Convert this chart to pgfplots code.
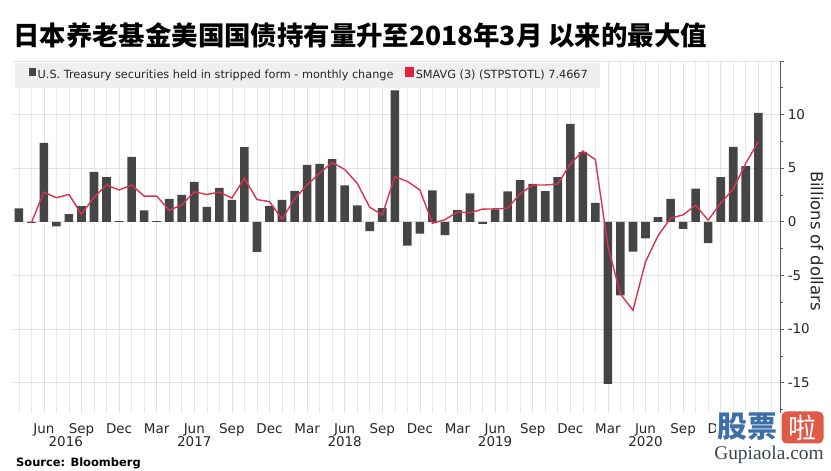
\documentclass[border=0pt]{standalone}
\usepackage{pgfplots}
\pgfplotsset{compat=1.18}
\usepackage{fontspec}
\setmainfont{DejaVu Sans}
\newfontfamily\cjk{Noto Sans CJK SC}
\newfontfamily\wmserif{Liberation Serif}
\definecolor{barcol}{HTML}{454545}
\definecolor{redline}{HTML}{D9344F}
\definecolor{legred}{HTML}{E8203A}
\definecolor{legbg}{HTML}{EFEFEF}
\definecolor{gridc}{HTML}{E2E2E2}
\definecolor{wmblue}{HTML}{3E6FA8}
\definecolor{wmred}{HTML}{E05A4A}
\definecolor{wmgray}{HTML}{3C4652}
\begin{document}
\begin{tikzpicture}[x=1bp,y=1bp]
\path[use as bounding box, fill=white] (0,0) rectangle (831,471);
\begin{axis}[
  at={(10,54)}, anchor=south west,
  width=767.7bp, height=352.2bp, scale only axis,
  xmin=-0.5, xmax=60.75, ymin=-17.83, ymax=15,
  axis x line*=bottom, axis y line*=right,
  x axis line style={draw=none},
  y axis line style={draw=black!65, line width=0.6bp},
  xtick={2,5,...,59},
  xticklabels={Jun,Sep,Dec,Mar,Jun,Sep,Dec,Mar,Jun,Sep,Dec,Mar,Jun,Sep,Dec,Mar,Jun,Sep,Dec,Mar},
  minor xtick={0,...,60},
  xtick style={draw=none}, minor x tick style={draw=none},
  xmajorgrids, xminorgrids, ymajorgrids,
  major grid style={gridc, line width=0.6bp},
  minor grid style={gridc!75, line width=0.6bp},
  ytick={-15,-10,-5,0,5,10,15}, yticklabels={-15,-10,-5,0,5,10,},
  minor ytick={-17.5,-12.5,-7.5,-2.5,2.5,7.5,12.5},
  ytick style={draw=black!65, line width=0.6bp},
  tick align=outside, major tick length=4bp, minor tick length=2.5bp,
  ticklabel style={font=\fontsize{13.5}{15}\selectfont, text=black!85},
  xticklabel style={yshift=-3bp},
  /pgf/number format/assume math mode=true,
  legend columns=2,
  legend style={at={(rel axis cs:0.0208,0.9615)}, anchor=west, draw=none, fill=none,
    inner sep=0pt, font=\fontsize{11.3}{13}\selectfont, text=black!85,
    /tikz/every even column/.append style={column sep=10.5bp},
    nodes={inner sep=1.5bp}},
  clip=false,
]
\addplot[ybar, bar width=8.6bp, fill=barcol, draw=none,
  legend image code/.code={\fill[barcol] (0bp,-1bp) rectangle (7.5bp,7bp);}]
coordinates {
(0,1.24) (1,-0.1) (2,7.36) (3,-0.43) (4,0.71) (5,1.46) (6,4.66) (7,4.16) (8,0.05) (9,6.06)
(10,1.06) (11,0.05) (12,2.14) (13,2.5) (14,3.73) (15,1.4) (16,3.17) (17,2.05) (18,6.96) (19,-2.8)
(20,1.49) (21,2.05) (22,2.89) (23,5.31) (24,5.4) (25,5.84) (26,3.39) (27,1.52) (28,-0.87) (29,1.27)
(30,12.24) (31,-2.23) (32,-1.1) (33,2.92) (34,-1.24) (35,1.09) (36,2.64) (37,-0.2) (38,1.15) (39,2.83)
(40,3.88) (41,3.54) (42,2.86) (43,4.16) (44,9.13) (45,6.49) (46,1.77) (47,-15.1) (48,-6.86) (49,-2.79)
(50,-1.55) (51,0.43) (52,2.14) (53,-0.65) (54,3.1) (55,-2.0) (56,4.16) (57,6.99) (58,5.19) (59,10.16)
};
\addlegendentry{U.S. Treasury securities held in stripped form - monthly change}
\addplot[color=redline, line width=1.4bp, no marks,
  legend image code/.code={\fill[legred] (0bp,-1bp) rectangle (7.5bp,7bp);}]
coordinates {
(1,-0.1) (2,2.76) (3,2.24) (4,2.55) (5,0.7) (6,2.28) (7,3.43) (8,2.96) (9,3.42)
(10,2.39) (11,2.39) (12,1.08) (13,1.56) (14,2.79) (15,2.54) (16,2.77) (17,2.21) (18,4.06) (19,2.07)
(20,1.88) (21,0.25) (22,2.14) (23,3.42) (24,4.53) (25,5.52) (26,4.88) (27,3.58) (28,1.35) (29,0.64)
(30,4.21) (31,3.76) (32,2.97) (33,-0.14) (34,0.19) (35,0.92) (36,0.83) (37,1.18) (38,1.2) (39,1.26)
(40,2.62) (41,3.42) (42,3.43) (43,3.52) (44,5.38) (45,6.59) (46,5.80) (47,-2.28) (48,-6.73) (49,-8.25)
(50,-3.73) (51,-1.30) (52,0.34) (53,0.64) (54,1.53) (55,0.15) (56,1.75) (57,3.05) (58,5.45) (59,7.4667)
};
\addlegendentry{SMAVG (3) (STPSTOTL) 7.4667}
\fill[legbg] (axis cs:-0.32,14.79) rectangle (axis cs:46.4,12.46);
\foreach \yr/\xx in {2016/3.75,2017/14,2018/26,2019/38,2020/50}{
  \edef\tmp{\noexpand\node[font=\noexpand\fontsize{13.5}{15}\noexpand\selectfont, text=black!85] at (axis cs:\xx,-17.83) [yshift=-29bp] {\yr};}\tmp
}
\end{axis}
\node[anchor=west, inner sep=0pt, font=\cjk\bfseries\fontsize{26.5}{28}\selectfont] at (13,436) {日本养老基金美国国债持有量升至2018年3月 以来的最大值};
\node[anchor=west, inner sep=0pt, font=\bfseries\fontsize{11.5}{13}\selectfont] at (16,8) {Source: Bloomberg};
\node[rotate=-90, inner sep=0pt, font=\fontsize{16.5}{18}\selectfont, text=black!85] at (817,230) {Billions of dollars};
\node[inner sep=1.5bp, fill=white, font=\cjk\bfseries\fontsize{30}{30}\selectfont, text=wmblue] at (747,44) {股票};
\node[fill=wmred, rounded corners=5bp, minimum width=42bp, minimum height=32bp, inner sep=0pt, text=white, font=\cjk\fontsize{28}{28}\selectfont] at (802.5,43.5) {啦};
\node[inner sep=0pt, font=\wmserif\fontsize{19.5}{20}\selectfont, text=wmgray] at (769,16) {Gupiaola.com};
\end{tikzpicture}
\end{document}
